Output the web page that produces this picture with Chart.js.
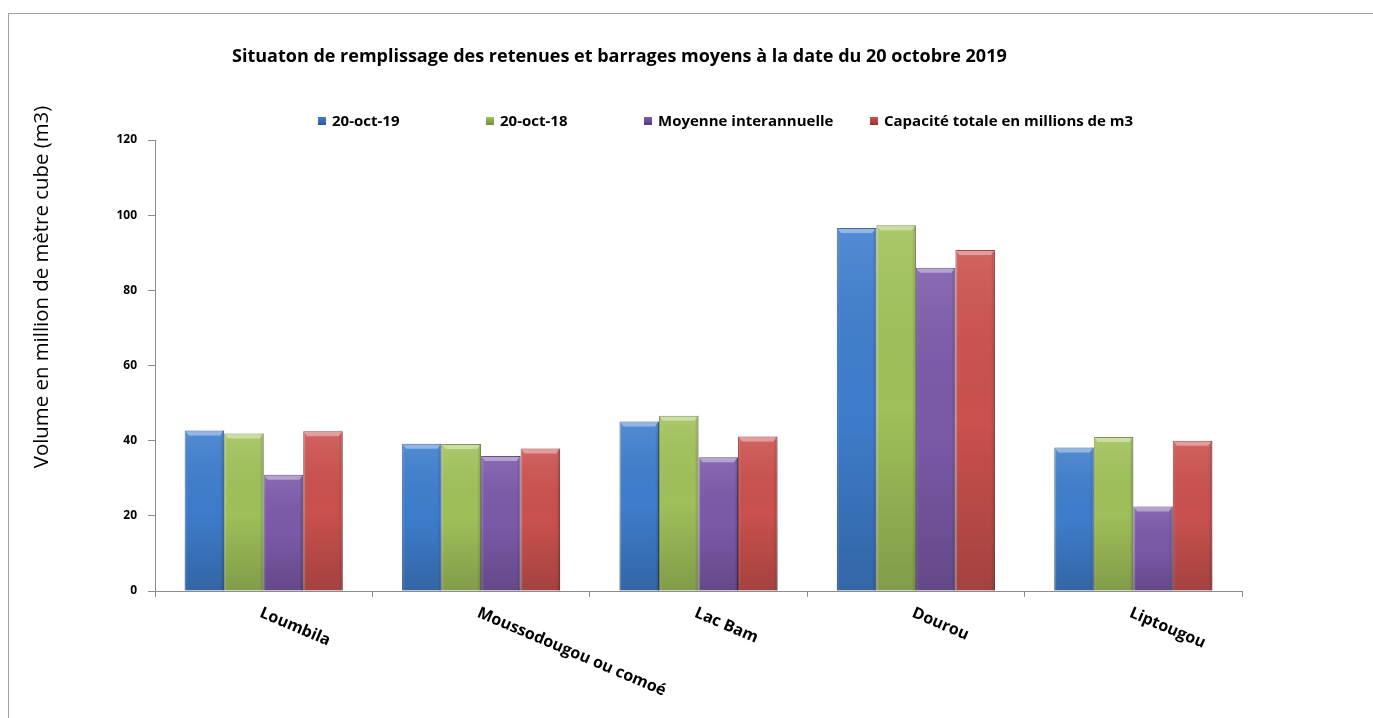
<!DOCTYPE html>
<html>
<head>
<meta charset="utf-8">
<title>Remplissage des retenues</title>
<script src="https://cdn.jsdelivr.net/npm/chart.js"></script>
<style>
  html, body { margin: 0; padding: 0; background: #fff; }
  #wrap { position: relative; width: 1373px; height: 718px; overflow: hidden; }
  /* thin grey frame round the chart, only top and left edges show */
  #frame { position: absolute; left: 8px; top: 13px; width: 1400px; height: 800px;
           border-left: 1px solid #a0a0a0; border-top: 1px solid #a0a0a0; }
  canvas { position: absolute; left: 0; top: 0; }
</style>
</head>
<body>
<div id="wrap">
  <div id="frame"></div>
  <canvas id="barChart" width="1373" height="718"></canvas>
</div>
<script>
// Data - volumes in millions of m3
const barrages = ['Loumbila', 'Moussodougou ou comoé', 'Lac Bam', 'Dourou', 'Liptougou'];
const seriesNames = ['20-oct-19', '20-oct-18', 'Moyenne interannuelle', 'Capacité totale en millions de m3'];
const vol2019 = [42.7, 39.2, 45.1, 96.6, 38.2];
const vol2018 = [41.9, 39.1, 46.6, 97.3, 41.0];
const moyenne = [30.9, 35.9, 35.6, 86.0, 22.5];
const capacite = [42.5, 37.9, 41.1, 90.7, 40.0];
const yTicks = [0, 20, 40, 60, 80, 100, 120];

const chartTitle = 'Situaton de remplissage des retenues et barrages moyens à la date du 20 octobre 2019';
const yTitle = 'Volume en million de mètre cube (m3)';

// colours: fill + darker edge for each series
const fills = ['#3f7fcf', '#a2c35b', '#7d5bab', '#cd524f'];
const edges = ['#2c5a94', '#738c3c', '#553c7a', '#8f3633'];

const FONT = '"Open Sans", Lato, sans-serif';
const AXIS = '#8c8c8c';

// legend x positions along the top row
const legendX = [318, 486, 644, 870];

// bevel look + all the texts drawn by hand
const decorPlugin = {
  id: 'decor',
  afterDatasetsDraw(chart) {
    const ctx = chart.ctx;
    chart.data.datasets.forEach((ds, di) => {
      const meta = chart.getDatasetMeta(di);
      meta.data.forEach(bar => {
        const { x, y, base, width } = bar.getProps(['x', 'y', 'base', 'width'], true);
        const left = x - width / 2;
        const h = base - y;
        ctx.save();
        // light at top, darker near the axis
        const g = ctx.createLinearGradient(0, y, 0, base);
        g.addColorStop(0, 'rgba(255,255,255,0.10)');
        g.addColorStop(0.5, 'rgba(0,0,0,0.02)');
        g.addColorStop(1, 'rgba(0,0,0,0.20)');
        ctx.fillStyle = g;
        ctx.fillRect(left, y, width, h);
        // side shading
        const gs = ctx.createLinearGradient(left, 0, left + width, 0);
        gs.addColorStop(0, 'rgba(255,255,255,0.10)');
        gs.addColorStop(0.08, 'rgba(255,255,255,0.0)');
        gs.addColorStop(0.9, 'rgba(0,0,0,0.0)');
        gs.addColorStop(1, 'rgba(0,0,0,0.18)');
        ctx.fillStyle = gs;
        ctx.fillRect(left, y, width, h);
        // bevelled top cap
        ctx.beginPath();
        ctx.moveTo(left + 1, y + 1);
        ctx.lineTo(left + width - 1, y + 1);
        ctx.lineTo(left + width - 4, y + 5);
        ctx.lineTo(left + 4, y + 5);
        ctx.closePath();
        ctx.fillStyle = 'rgba(255,255,255,0.38)';
        ctx.fill();
        ctx.restore();
      });
    });
  },
  afterDraw(chart) {
    const ctx = chart.ctx;
    ctx.save();
    ctx.fillStyle = '#000';

    // chart title
    ctx.font = 'bold 18px ' + FONT;
    ctx.textAlign = 'left';
    ctx.textBaseline = 'middle';
    ctx.fillText(chartTitle, 232, 57);

    // legend row
    ctx.font = 'bold 15px ' + FONT;
    seriesNames.forEach((name, i) => {
      const bx = legendX[i], by = 121;
      const g = ctx.createLinearGradient(0, by - 4, 0, by + 4);
      g.addColorStop(0, fills[i]);
      g.addColorStop(1, edges[i]);
      ctx.fillStyle = g;
      ctx.fillRect(bx, by - 4, 8, 8);
      ctx.fillStyle = '#000';
      ctx.fillText(name, bx + 14, by + 1);
    });

    // y axis title, rotated
    ctx.save();
    ctx.translate(42, 287);
    ctx.rotate(-Math.PI / 2);
    ctx.textAlign = 'center';
    ctx.font = '20.4px ' + FONT;
    ctx.fillText(yTitle, 0, 0);
    ctx.restore();

    // category labels slanting downwards from the middle of each group
    const xs = chart.scales.x;
    ctx.font = 'bold 16px ' + FONT;
    ctx.textAlign = 'left';
    ctx.textBaseline = 'top';
    barrages.forEach((lab, i) => {
      ctx.save();
      ctx.translate(xs.getPixelForValue(i), xs.top + 14);
      ctx.rotate(23 * Math.PI / 180);
      ctx.fillText(lab, 0, 0);
      ctx.restore();
    });
    ctx.restore();
  }
};

const values = [vol2019, vol2018, moyenne, capacite];

new Chart(document.getElementById('barChart'), {
  type: 'bar',
  data: {
    labels: barrages,
    datasets: seriesNames.map((name, i) => ({
      label: name,
      data: values[i],
      backgroundColor: fills[i],
      borderColor: edges[i],
      borderWidth: 1,
      categoryPercentage: 0.727,
      barPercentage: 1.0
    }))
  },
  options: {
    responsive: false,
    animation: false,
    layout: { padding: { left: 0, top: 140, right: 131, bottom: 0 } },
    plugins: {
      legend: { display: false },
      title: { display: false },
      tooltip: { enabled: false }
    },
    scales: {
      x: {
        grid: { offset: true, drawOnChartArea: false, tickLength: 6, color: AXIS },
        border: { color: AXIS },
        ticks: { display: false },
        afterFit: s => { s.height = 127; }
      },
      y: {
        min: 0,
        max: 120,
        afterBuildTicks: s => { s.ticks = yTicks.map(v => ({ value: v })); },
        grid: { drawOnChartArea: false, tickLength: 7, color: AXIS },
        border: { color: AXIS },
        ticks: { color: '#000', padding: 11, font: { family: FONT, size: 12, weight: 'bold' } },
        afterFit: s => { s.width = 155; }
      }
    }
  },
  plugins: [decorPlugin]
});
</script>
</body>
</html>
